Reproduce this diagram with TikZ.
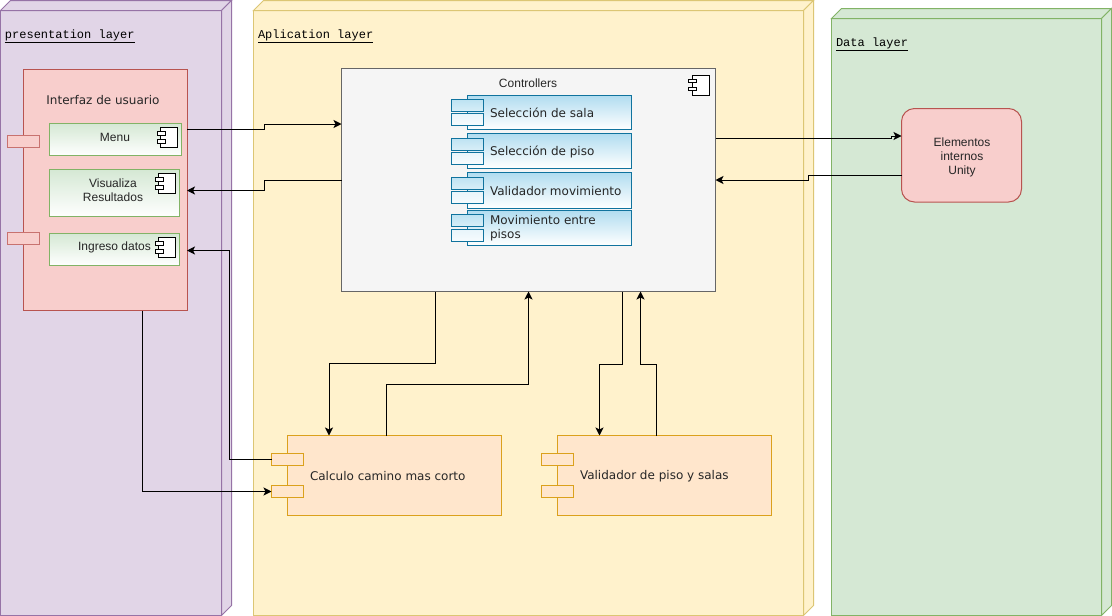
\documentclass[tikz,border=0pt]{standalone}
\usepackage{fontspec}
\setmainfont{Liberation Sans}
\newfontfamily\dejafont{DejaVu Sans}
\newfontfamily\monofont{Liberation Mono}
\usetikzlibrary{arrows.meta}
\definecolor{purF}{HTML}{E1D5E7}\definecolor{purD}{HTML}{9673A6}
\definecolor{yelF}{HTML}{FFF2CC}\definecolor{yelD}{HTML}{DCC674}
\definecolor{greF}{HTML}{D5E8D4}\definecolor{greD}{HTML}{82B366}
\definecolor{redF}{HTML}{F8CECC}\definecolor{redD}{HTML}{B85450}
\definecolor{oraF}{HTML}{FFE6CC}\definecolor{oraD}{HTML}{DBA11C}
\definecolor{bluF}{HTML}{B1DDF0}\definecolor{bluD}{HTML}{10739E}
\definecolor{graF}{HTML}{F5F5F5}\definecolor{graD}{HTML}{666666}
\definecolor{txt}{HTML}{262626}
\tikzset{
  x=1pt,y=-1pt,
  every node/.style={inner sep=0pt,outer sep=0pt,anchor=north west,text=txt},
  box/.style={rectangle,draw,line width=1pt},
  redbox/.style={box,draw=redD,fill=redF},
  oranbox/.style={box,draw=oraD,fill=oraF},
  greenbox/.style={box,draw=greD,top color=greF,bottom color=white},
  bluebox/.style={box,draw=bluD,top color=bluF,bottom color=white},
  bluetabA/.style={box,draw=bluD,top color=bluF!85!white,bottom color=bluF!50!white},
  bluetabB/.style={box,draw=bluD,top color=bluF!30!white,bottom color=bluF!10!white},
  helv/.style={font=\fontsize{12}{14}\selectfont,align=center,anchor=center},
  deja/.style={font=\dejafont\fontsize{12}{15}\selectfont,align=left,anchor=west},
  mono/.style={font=\monofont\fontsize{12}{14}\selectfont,text=black,anchor=west},
  link/.style={draw=black,line width=1pt,-{Stealth[length=8pt,width=8pt,inset=2pt]}},
  iconline/.style={draw=black,line width=1pt,fill=white},
  wsize/.style 2 args={minimum width=#1pt,minimum height=#2pt},
}
\newcommand{\cube}[7]{% x1,y1,x2,y2,depth,fill,draw
  \draw[line width=1pt,draw=#7,fill=#6] (#1,#2) rectangle (#3,#4);
  \draw[line width=1pt,draw=#7,fill=#6] (#1,#2) -- ++(#5,-#5) -- (#3+#5,#2-#5) -- (#3,#2) -- cycle;
  \draw[line width=1pt,draw=#7,fill=#6] (#3,#2) -- (#3+#5,#2-#5) -- (#3+#5,#4-#5) -- (#3,#4) -- cycle;
}
\newcommand{\icon}[2]{% x,y of body's top-left
  \draw[iconline] (#1,#2) rectangle ++(17,20);
  \draw[iconline] (#1-3.5,#2+4) rectangle ++(8,3.7);
  \draw[iconline] (#1-3.5,#2+12) rectangle ++(8,3.7);
}
\begin{document}
\begin{tikzpicture}
\useasboundingbox (0,0) rectangle (1112,616);
\fill[white] (0,0) rectangle (1112,616);
% layers
\cube{0.5}{10.5}{221.5}{615.5}{10}{purF}{purD}
\cube{253.5}{10.5}{803.5}{615.5}{10}{yelF}{yelD}
\cube{831.5}{18.5}{1101.5}{615.5}{10}{greF}{greD}
\node[mono] (lp) at (5,36) {\underline{presentation layer}};
\node[mono] (la) at (258,36) {\underline{Aplication layer}};
\node[mono] (ld) at (836,44) {\underline{Data layer}};
% user interface
\node[redbox,wsize={164}{241}] (ui) at (23,69.5) {};
\node[redbox,draw=redD!75!redF,wsize={32}{12}] (uiT1) at (7,135.5) {};
\node[redbox,draw=redD!75!redF,wsize={32}{12}] (uiT2) at (7,232) {};
\node[deja,anchor=center] (uiL) at (103,100.5) {Interfaz de usuario};
\node[greenbox,wsize={132}{32}] (menu) at (49.5,123.5) {};
\node[helv] (menuL) at (115,137.5) {Menu};
\icon{160.5}{127.5}
\node[greenbox,wsize={130}{47}] (vis) at (49.5,169.5) {};
\node[helv] (visL) at (113,190.5) {Visualiza\\Resultados};
\icon{158.5}{173.5}
\node[greenbox,wsize={130}{32}] (ing) at (49.5,233.5) {};
\node[helv] (ingL) at (114.5,247.5) {Ingreso datos};
\icon{158.5}{237.5}
% controllers
\node[box,draw=graD,fill=graF,wsize={374}{223}] (ctl) at (341.5,68.5) {};
\node[helv] (ctlL) at (528,83.5) {Controllers};
\icon{692}{75}
\node[bluebox,wsize={164}{34}] (r1) at (467.5,95.5) {};
\node[bluetabA,wsize={32}{12}] (r1a) at (451.5,99.5) {};
\node[bluetabB,wsize={32}{12}] (r1b) at (451.5,113.5) {};
\node[deja] (r1L) at (490,113) {Selección de sala};
\node[bluebox,wsize={164}{35}] (r2) at (467.5,133.5) {};
\node[bluetabA,wsize={32}{12}] (r2a) at (451.5,138) {};
\node[bluetabB,wsize={32}{12}] (r2b) at (451.5,152) {};
\node[deja] (r2L) at (490,152) {Selección de piso};
\node[bluebox,wsize={164}{36}] (r3) at (467.5,172.5) {};
\node[bluetabA,wsize={32}{12}] (r3a) at (451.5,177) {};
\node[bluetabB,wsize={32}{12}] (r3b) at (451.5,191.5) {};
\node[deja] (r3L) at (490,191) {Validador movimiento};
\node[bluebox,wsize={164}{35}] (r4) at (467.5,210.5) {};
\node[bluetabA,wsize={32}{12}] (r4a) at (451.5,214.5) {};
\node[bluetabB,wsize={32}{12}] (r4b) at (451.5,229.5) {};
\node[deja,font=\dejafont\fontsize{12}{14}\selectfont] (r4L) at (490,228.5) {Movimiento entre\\pisos};
% lower components
\node[oranbox,wsize={214}{80}] (cal) at (287.5,435.5) {};
\node[oranbox,wsize={32}{12}] (calA) at (271.5,453.5) {};
\node[oranbox,wsize={32}{12}] (calB) at (271.5,485.5) {};
\node[deja] (calL) at (310,476) {Calculo camino mas corto};
\node[oranbox,wsize={214}{80}] (val) at (557.5,435.5) {};
\node[oranbox,wsize={32}{12}] (valA) at (541.5,453.5) {};
\node[oranbox,wsize={32}{12}] (valB) at (541.5,485.5) {};
\node[deja] (valL) at (580,476) {Validador de piso y salas};
% data element
\node[box,draw=redD,fill=redF,rounded corners=13pt,wsize={120}{93.5}] (uni) at (901.5,108.5) {};
\node[helv] (uniL) at (962,157) {Elementos\\internos\\Unity};
% connectors
\draw[link] (ui.east |- 0,129) -- (264.5,129) -- (264.5,124) -- (ctl.west |- 0,124);
\draw[link] (ctl.west |- 0,180.5) -- (264.5,180.5) -- (264.5,190.5) -- (ui.east |- 0,190.5);
\draw[link] (ctl.east |- 0,138) -- (891,138) -- (891,136) -- (uni.west |- 0,136);
\draw[link] (uni.west |- 0,175) -- (808.5,175) -- (808.5,180) -- (ctl.east |- 0,180);
\draw[link] (calA.west) -- (229.5,459.5) -- (229.5,250.5) -- (ui.east |- 0,250.5);
\draw[link] (142.5,0 |- ui.south) -- (142.5,491.5) -- (calB.west);
\draw[link] (435.5,0 |- ctl.south) -- (435.5,363.5) -- (329,363.5) -- (329,0 |- cal.north);
\draw[link] (386.5,0 |- cal.north) -- (386.5,384.5) -- (528.5,384.5) -- (528.5,0 |- ctl.south);
\draw[link] (622.5,0 |- ctl.south) -- (622.5,364) -- (599.5,364) -- (599.5,0 |- val.north);
\draw[link] (656.5,0 |- val.north) -- (656.5,364) -- (640.5,364) -- (640.5,0 |- ctl.south);
\end{tikzpicture}
\end{document}
